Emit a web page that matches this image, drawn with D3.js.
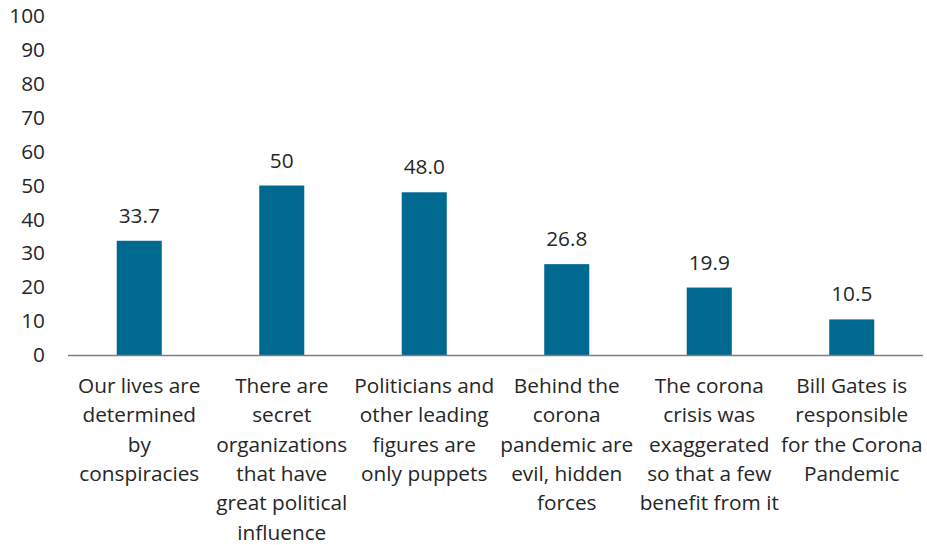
<!DOCTYPE html>
<html>
<head>
<meta charset="utf-8">
<script src="https://cdn.jsdelivr.net/npm/d3@7"></script>
<style>
  html, body { margin: 0; padding: 0; background: #fff; }
  svg text { font-family: "Open Sans", Lato, sans-serif; fill: #262626; }
</style>
</head>
<body>
<svg id="chart" width="927" height="545"></svg>
<script>
// Survey statements (pre-broken into display lines)
const categories = [
  ["Our lives are", "determined", "by", "conspiracies"],
  ["There are", "secret", "organizations", "that have", "great political", "influence"],
  ["Politicians and", "other leading", "figures are", "only puppets"],
  ["Behind the", "corona", "pandemic are", "evil, hidden", "forces"],
  ["The corona", "crisis was", "exaggerated", "so that a few", "benefit from it"],
  ["Bill Gates is", "responsible", "for the Corona", "Pandemic"]
];
const values = [33.7, 50, 48.0, 26.8, 19.9, 10.5];
const valueLabels = ["33.7", "50", "48.0", "26.8", "19.9", "10.5"];
const yTicks = [0, 10, 20, 30, 40, 50, 60, 70, 80, 90, 100];

const svg = d3.select("#chart");
const margin = { left: 68, right: 4, top: 16, bottom: 190 };
const width = 927, height = 545;
const fontSize = 20.8;
const fontFamily = "'Open Sans', Lato, sans-serif";

const x = d3.scaleBand()
  .domain(d3.range(categories.length))
  .range([margin.left, width - margin.right])
  .paddingInner(0.684)
  .paddingOuter(0.342);

const y = d3.scaleLinear()
  .domain([0, 100])
  .range([height - margin.bottom, margin.top]);

// Y axis: labels only, no line or ticks
const yAxis = svg.append("g")
  .attr("transform", `translate(${margin.left},0)`)
  .call(d3.axisLeft(y).tickValues(yTicks).tickSize(0).tickPadding(23));
yAxis.select(".domain").remove();
yAxis.selectAll("text")
  .style("font-family", fontFamily)
  .attr("font-size", fontSize)
  .attr("fill", "#262626");

// Bars
svg.append("g").selectAll("rect")
  .data(values)
  .join("rect")
  .attr("x", (d, i) => x(i))
  .attr("y", d => y(d))
  .attr("width", x.bandwidth())
  .attr("height", d => y(0) - y(d))
  .attr("fill", "#006990");

// Value labels above bars
svg.append("g").selectAll("text")
  .data(values)
  .join("text")
  .attr("x", (d, i) => x(i) + x.bandwidth() / 2)
  .attr("y", d => y(d) - 18)
  .attr("text-anchor", "middle")
  .attr("font-size", fontSize)
  .text((d, i) => valueLabels[i]);

// Category axis baseline
svg.append("line")
  .attr("x1", margin.left)
  .attr("x2", width - margin.right)
  .attr("y1", y(0) + 0.5)
  .attr("y2", y(0) + 0.5)
  .attr("stroke", "#7f7f7f")
  .attr("stroke-width", 1.3);

// Category labels, multi-line
const lineHeight = 29.3;
const catG = svg.append("g").selectAll("text")
  .data(categories)
  .join("text")
  .attr("text-anchor", "middle")
  .attr("font-size", fontSize);
catG.each(function(lines, i) {
  const t = d3.select(this);
  lines.forEach((ln, k) => {
    t.append("tspan")
      .attr("x", x(i) + x.bandwidth() / 2)
      .attr("y", y(0) + 38 + k * lineHeight)
      .text(ln);
  });
});
</script>
</body>
</html>
